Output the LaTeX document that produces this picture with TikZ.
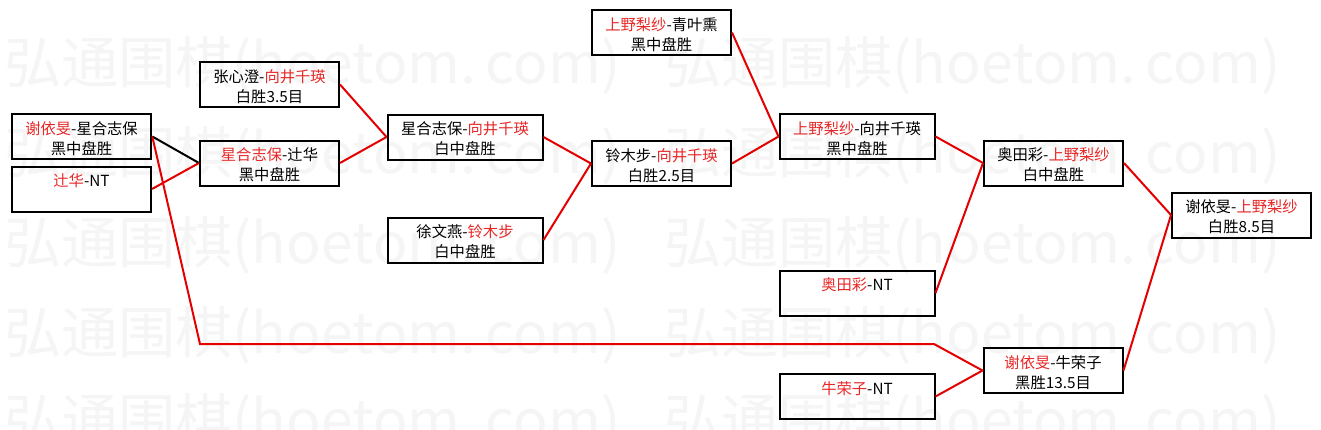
\documentclass[tikz,border=0pt]{standalone}
\usepackage{fontspec}
\usepackage{graphicx}
\newfontfamily\cjk{Noto Sans CJK SC}
\definecolor{lred}{RGB}{228,0,0}
\definecolor{tred}{RGB}{232,40,40}
\definecolor{wmark}{RGB}{245,245,245}
\newcommand{\rd}[1]{\textcolor{tred}{#1}}
\newcommand{\fl}{\rule{0pt}{17pt}}
\newcommand{\wmtext}{\scalebox{1.02}[1]{弘通围棋(hoetom.\,com)}}
\begin{document}
\begin{tikzpicture}[x=1pt,y=-1pt,
  box/.style={draw=black, line width=2pt, minimum width=139pt, minimum height=45pt,
    inner sep=0pt, align=center, font=\cjk\fontsize{15.3}{20}\selectfont},
  widebox/.style={box, minimum width=155pt},
  conn/.style={draw=lred, line width=2pt, line join=miter},
  wm/.style={anchor=west, inner sep=0pt, text=wmark, font=\cjk\fontsize{56}{60}\selectfont}
]
\useasboundingbox[fill=white] (0,0) rectangle (1321,429);
% watermark
\foreach \yy [count=\i] in {65,155,245,335,422}{
  \node[wm] (wmA\i) at (4,\yy) {\wmtext};
  \node[wm] (wmB\i) at (664,\yy) {\wmtext};
}
% boxes
\node[box, line width=2.6pt] (b1) at (81.5,136.5) {\fl\rd{谢依旻}-星合志保\\黑中盘胜};
\node[box] (b2) at (81.5,189) {\fl\rd{辻华}-NT\\\phantom{黑}};
\node[box] (b3) at (269.5,84.5) {\fl 张心澄-\rd{向井千瑛}\\白胜3.5目};
\node[box] (b4) at (269.5,163) {\fl\rd{星合志保}-辻华\\黑中盘胜};
\node[widebox] (b5) at (465,137) {\fl 星合志保-\rd{向井千瑛}\\白中盘胜};
\node[widebox] (b6) at (465,240) {\fl 徐文燕-\rd{铃木步}\\白中盘胜};
\node[box] (b7) at (661.5,163.5) {\fl 铃木步-\rd{向井千瑛}\\白胜2.5目};
\node[box] (b8) at (661.5,32.5) {\fl\rd{上野梨纱}-青叶熏\\黑中盘胜};
\node[widebox] (b9) at (857,136.5) {\fl\rd{上野梨纱}-向井千瑛\\黑中盘胜};
\node[box] (b10) at (1053.5,163) {\fl 奥田彩-\rd{上野梨纱}\\白中盘胜};
\node[widebox] (b11) at (857,293) {\fl\rd{奥田彩}-NT\\\phantom{黑}};
\node[box] (b12) at (1241.5,215) {\fl 谢依旻-\rd{上野梨纱}\\白胜8.5目};
\node[box] (b13) at (1053,370.5) {\fl\rd{谢依旻}-牛荣子\\黑胜13.5目};
\node[widebox] (b14) at (857,396.5) {\fl\rd{牛荣子}-NT\\\phantom{黑}};
% bend points of the long connector
\coordinate (p1) at (200,344);
\coordinate (p2) at (934,344);
% connectors
\draw[line width=2pt, black] (b1.east) -- (b4.west);
\draw[conn] (b2.east) -- (b4.west);
\draw[conn] (b1.east) -- (p1) -- (p2) -- (b13.west);
\draw[conn] (b3.east) -- (b5.west);
\draw[conn] (b4.east) -- (b5.west);
\draw[conn] (b5.east) -- (b7.west);
\draw[conn] (b6.east) -- (b7.west);
\draw[conn] (b7.east) -- (b9.west);
\draw[conn] (b8.east) -- (b9.west);
\draw[conn] (b9.east) -- (b10.west);
\draw[conn] (b11.east) -- (b10.west);
\draw[conn] (b10.east) -- (b12.west);
\draw[conn] (b13.east) -- (b12.west);
\draw[conn] (b14.east) -- (b13.west);
\end{tikzpicture}
\end{document}
